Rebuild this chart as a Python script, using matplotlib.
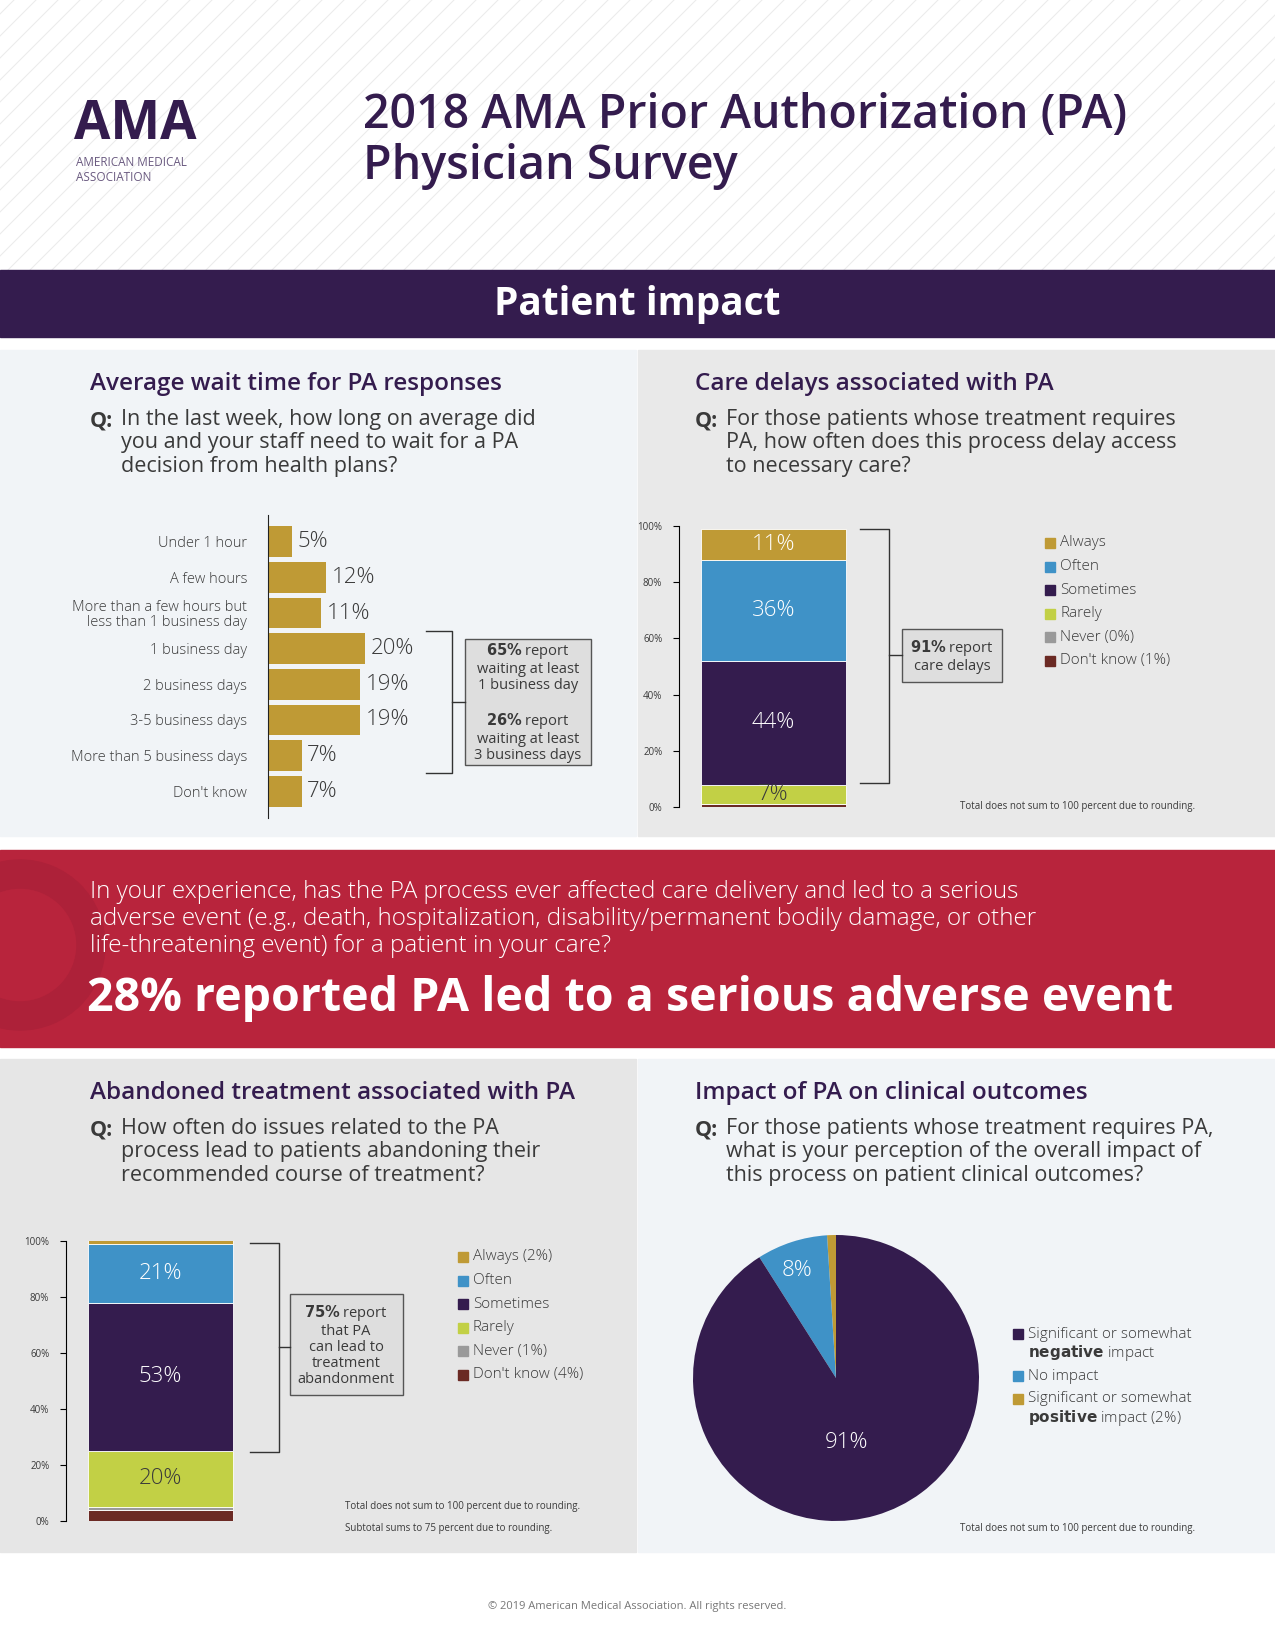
import matplotlib.pyplot as plt
from matplotlib.patches import Rectangle, Wedge

plt.rcParams['font.family'] = ['Open Sans', 'DejaVu Sans']

W, H = 1275, 1650

PURPLE = "#341c4e"
GOLD = "#bf9a35"
BLUE = "#3f92c7"
LIME = "#c2d045"
GREY = "#9a9a9a"
BROWN = "#6b2a24"
RED = "#b8243c"
TXT = "#3a3a3a"

# data
wait_labels = ["Under 1 hour", "A few hours", "More than a few hours but\nless than 1 business day",
               "1 business day", "2 business days", "3-5 business days",
               "More than 5 business days", "Don't know"]
wait_values = [5, 12, 11, 20, 19, 19, 7, 7]

delay_cats = ["Don't know (1%)", "Never (0%)", "Rarely", "Sometimes", "Often", "Always"]
delay_values = [1, 0, 7, 44, 36, 11]

aband_cats = ["Don't know (4%)", "Never (1%)", "Rarely", "Sometimes", "Often", "Always (2%)"]
aband_values = [4, 1, 20, 53, 21, 2]

stack_colors = [BROWN, GREY, LIME, PURPLE, BLUE, GOLD]

pie_values = [1, 8, 91]  # positive, no impact, negative
pie_colors = [GOLD, BLUE, PURPLE]

yticks_pct = [0, 20, 40, 60, 80, 100]

fig = plt.figure(figsize=(W / 100, H / 100), dpi=100)
ax = fig.add_axes([0, 0, 1, 1])
ax.set_xlim(0, W)
ax.set_ylim(H, 0)
ax.axis("off")


def inset(x, y, w, h):
    return fig.add_axes([x / W, 1 - (y + h) / H, w / W, h / H])


# header hatching
for i in range(-300, 1400, 22):
    ax.plot([i, i + 270], [270, 0], color="#ececec", lw=0.8, zorder=0)
ax.add_patch(Rectangle((0, 270), W, 67, color=PURPLE, zorder=1))
ax.text(W / 2, 305, "Patient impact", color="white", fontsize=28, fontweight="bold",
        ha="center", va="center")

# logo + title
ax.text(74, 125, "AMA", color=PURPLE, fontsize=38, fontweight="bold", va="center")
ax.text(76, 170, "AMERICAN MEDICAL\nASSOCIATION", color="#6a5a80", fontsize=8.5,
        va="center", linespacing=1.2)
ax.text(363, 141, "2018 AMA Prior Authorization (PA)\nPhysician Survey", color=PURPLE,
        fontsize=33.5, fontweight="semibold", va="center", linespacing=1.1)

# panels
ax.add_patch(Rectangle((0, 350), 636, 486, color="#f1f4f7", zorder=0))
ax.add_patch(Rectangle((638, 350), 637, 486, color="#e9e9e9", zorder=0))
ax.add_patch(Rectangle((0, 1059), 636, 493, color="#e6e6e6", zorder=0))
ax.add_patch(Rectangle((638, 1059), 637, 493, color="#f1f4f7", zorder=0))

# red band
ax.add_patch(Rectangle((0, 850), W, 197, color=RED, zorder=1))
ax.add_patch(Wedge((20, 945), 85, 0, 360, width=28, color="#ad2139", zorder=1))
ax.text(90, 919, "In your experience, has the PA process ever affected care delivery and led to a serious\n"
        "adverse event (e.g., death, hospitalization, disability/permanent bodily damage, or other\n"
        "life-threatening event) for a patient in your care?", color="white", fontsize=17.5,
        fontweight="light", va="center", linespacing=1.15, zorder=2)
ax.text(87, 999, "28% reported PA led to a serious adverse event", color="white", fontsize=33.5,
        fontweight="bold", va="center", zorder=2)


def heading(x, y, title, q):
    ax.text(x, y, title, color=PURPLE, fontsize=17.5, fontweight="semibold", va="center")
    ax.text(x, y + 37, "Q:", color=TXT, fontsize=15.5, fontweight="bold", va="center")
    ax.text(x + 31, y + 37 - 12, q, color=TXT, fontsize=15.5, va="top", linespacing=1.15)


heading(90, 384, "Average wait time for PA responses",
        "In the last week, how long on average did\nyou and your staff need to wait for a PA\ndecision from health plans?")
heading(695, 384, "Care delays associated with PA",
        "For those patients whose treatment requires\nPA, how often does this process delay access\nto necessary care?")
heading(90, 1093, "Abandoned treatment associated with PA",
        "How often do issues related to the PA\nprocess lead to patients abandoning their\nrecommended course of treatment?")
heading(695, 1093, "Impact of PA on clinical outcomes",
        "For those patients whose treatment requires PA,\nwhat is your perception of the overall impact of\nthis process on patient clinical outcomes?")

# wait time bars
bx = inset(268, 515, 194, 303)
ypos = list(range(len(wait_values)))
bx.barh(ypos, wait_values, height=0.86, color=GOLD)
bx.set_xlim(0, 40)
bx.set_ylim(len(wait_values) - 0.5 + 0.25, -0.5 - 0.25)
bx.set_yticks(ypos)
bx.set_yticklabels(wait_labels, fontsize=10.5, color=TXT, linespacing=1.0, fontweight="light")
bx.tick_params(axis="y", length=0, pad=15)
bx.set_xticks([])
for s in ["top", "right", "bottom"]:
    bx.spines[s].set_visible(False)
bx.spines["left"].set_color("#222")
bx.patch.set_alpha(0)
for yv, v in zip(ypos, wait_values):
    bx.text(v + 1.1, yv, f"{v}%", fontsize=16, color=TXT, va="center", fontweight="light")
ax.plot([426, 452, 452, 426], [631, 631, 773, 773], color="#333", lw=1)
ax.plot([452, 465], [702, 702], color="#333", lw=1)
ax.add_patch(Rectangle((465, 639), 126, 126, facecolor="#dedede", edgecolor="#555", lw=1))
ax.text(528, 667, r"$\bf{65\%}$ report" + "\nwaiting at least\n1 business day", fontsize=10.5,
        color=TXT, ha="center", va="center", linespacing=1.1)
ax.text(528, 737, r"$\bf{26\%}$ report" + "\nwaiting at least\n3 business days", fontsize=10.5,
        color=TXT, ha="center", va="center", linespacing=1.1)


def stacked(x, y, h, values, cats, label_idx, dark_idx):
    sx = inset(x, y, 180, h)
    bottom = 0
    for i, (v, c) in enumerate(zip(values, stack_colors)):
        sx.bar(0.12, v, width=0.81, bottom=bottom, color=c, align="edge",
               edgecolor="white", lw=0.6)
        if i in label_idx:
            sx.text(0.525, bottom + v / 2, f"{v}%", ha="center", va="center", fontsize=16,
                    color=TXT if i in dark_idx else "white", fontweight="light")
        bottom += v
    sx.set_xlim(0.0, 1.0)
    sx.set_ylim(0, 100)
    sx.set_yticks(yticks_pct)
    sx.set_yticklabels([f"{t}%" for t in yticks_pct], fontsize=7, color=TXT)
    sx.tick_params(axis="y", length=4, pad=8)
    sx.set_xticks([])
    for s in ["top", "right", "bottom"]:
        sx.spines[s].set_visible(False)
    sx.patch.set_alpha(0)
    return sx


stacked(679, 526, 281, delay_values, delay_cats, [2, 3, 4, 5], [2])
ax.plot([860, 889, 889, 860], [529, 529, 783, 783], color="#333", lw=1)
ax.plot([889, 902], [655, 655], color="#333", lw=1)
ax.add_patch(Rectangle((902, 629), 100, 53, facecolor="#dedede", edgecolor="#555", lw=1))
ax.text(952, 656, r"$\bf{91\%}$ report" + "\ncare delays", fontsize=10.5, color=TXT,
        ha="center", va="center", linespacing=1.1)
for i, (c, col) in enumerate(zip(delay_cats[::-1], stack_colors[::-1])):
    yy = 543 + i * 23.6
    ax.add_patch(Rectangle((1045, yy - 5), 10, 10, color=col))
    ax.text(1060, yy, c, fontsize=11, color=TXT, va="center", fontweight="light")
ax.text(960, 807, "Total does not sum to 100 percent due to rounding.", fontsize=7,
        color=TXT, va="center")

stacked(66, 1241, 280, aband_values, aband_cats, [2, 3, 4], [2])
ax.plot([250, 279, 279, 250], [1243, 1243, 1452, 1452], color="#333", lw=1)
ax.plot([279, 290], [1347, 1347], color="#333", lw=1)
ax.add_patch(Rectangle((290, 1294), 113, 101, facecolor="#dedede", edgecolor="#555", lw=1))
ax.text(346, 1345, r"$\bf{75\%}$ report" + "\nthat PA\ncan lead to\ntreatment\nabandonment",
        fontsize=10.5, color=TXT, ha="center", va="center", linespacing=1.1)
for i, (c, col) in enumerate(zip(aband_cats[::-1], stack_colors[::-1])):
    yy = 1257 + i * 23.6
    ax.add_patch(Rectangle((458, yy - 5), 10, 10, color=col))
    ax.text(473, yy, c, fontsize=11, color=TXT, va="center", fontweight="light")
ax.text(345, 1507, "Total does not sum to 100 percent due to rounding.", fontsize=7,
        color=TXT, va="center")
ax.text(345, 1529, "Subtotal sums to 75 percent due to rounding.", fontsize=7,
        color=TXT, va="center")

# pie
px = inset(836 - 143, 1378 - 143, 286, 286)
px.pie(pie_values, colors=pie_colors, startangle=90, counterclock=True, radius=1.0)
px.set_xlim(-1, 1)
px.set_ylim(-1, 1)
px.set_aspect("equal")
px.text(-0.27, 0.75, f"{pie_values[1]}%", color="white", fontsize=16, ha="center",
        va="center", fontweight="light")
px.text(0.07, -0.45, f"{pie_values[2]}%", color="white", fontsize=16, ha="center",
        va="center", fontweight="light")
legend_items = [(PURPLE, 1334, "Significant or somewhat", r"$\bf{negative}$ impact"),
                (BLUE, 1376, "No impact", None),
                (GOLD, 1399, "Significant or somewhat", r"$\bf{positive}$ impact (2%)")]
for col, yy, l1, l2 in legend_items:
    ax.add_patch(Rectangle((1013, yy - 5), 10, 10, color=col))
    ax.text(1028, yy, l1, fontsize=11, color=TXT, va="center", fontweight="light")
    if l2:
        ax.text(1028, yy + 19, l2, fontsize=11, color=TXT, va="center", fontweight="light")
ax.text(960, 1529, "Total does not sum to 100 percent due to rounding.", fontsize=7,
        color=TXT, va="center")

ax.text(W / 2, 1607, "© 2019 American Medical Association. All rights reserved.", fontsize=8,
        color="#777", ha="center", va="center")

fig.savefig("out.png", dpi=100)
